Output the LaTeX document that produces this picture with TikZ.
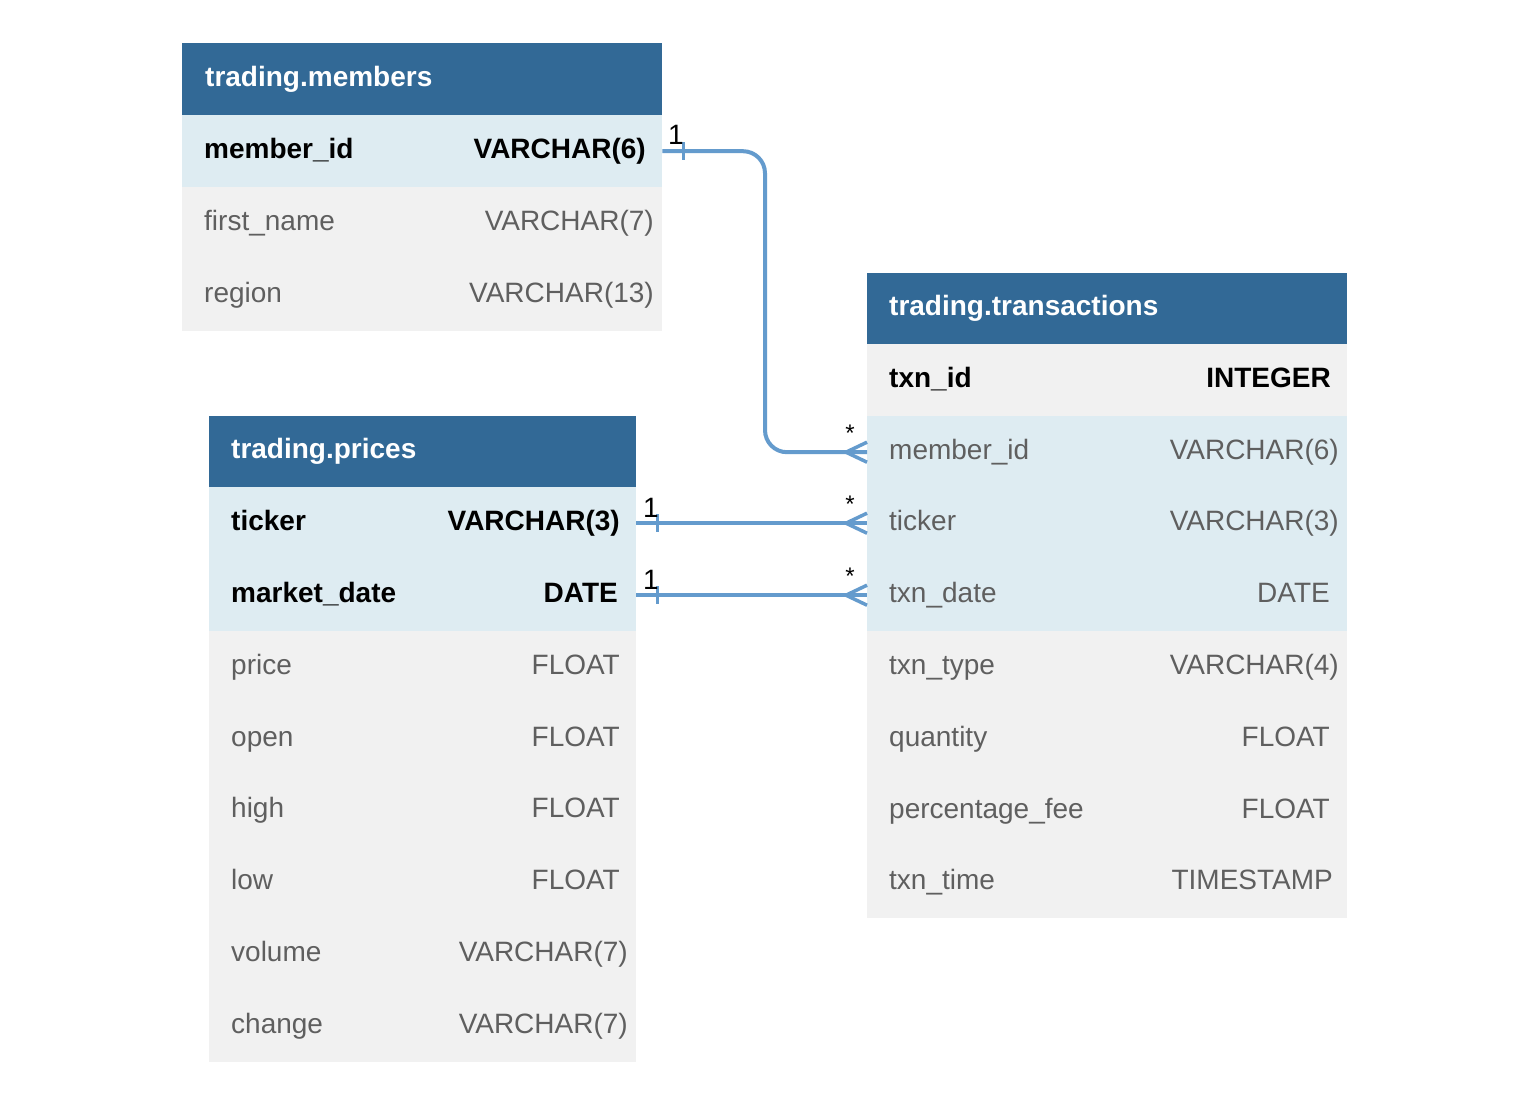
\documentclass[tikz,border=0pt]{standalone}
\usepackage{fontspec}
\setmainfont{Liberation Sans}
\definecolor{hdr}{RGB}{50,105,150}
\definecolor{keyfill}{RGB}{222,236,242}
\definecolor{plainfill}{RGB}{241,241,241}
\definecolor{greytxt}{RGB}{95,95,95}
\definecolor{conncol}{RGB}{100,155,205}
\tikzset{
  rowbox/.style={rectangle, draw=none, inner sep=0pt, minimum height=72pt, anchor=north west},
  hdrtxt/.style={inner sep=0pt, text=white, font=\fontsize{28}{34}\selectfont\bfseries},
  keytxt/.style={inner sep=0pt, text=black, font=\fontsize{28}{34}\selectfont\bfseries},
  plaintxt/.style={inner sep=0pt, text=greytxt, font=\fontsize{28}{34}\selectfont},
  conn/.style={draw=conncol, line width=4pt},
  card/.style={inner sep=0pt, text=black, font=\fontsize{28}{34}\selectfont},
  cardstar/.style={inner sep=0pt, text=black, font=\fontsize{24}{28}\selectfont},
}
% #1 name, #2 x, #3 y top, #4 width, #5 fill, #6 field, #7 type, #8 type right x, #9 text style
\newcommand{\erow}[9]{%
  \node[rowbox, fill=#5, minimum width=#4] (#1) at (#2,#3) {};
  \node[#9, anchor=base west] (#1-n) at (#2+22,#3+43) {#6};
  \node[#9, anchor=base east] (#1-t) at (#8,#3+43) {#7};
}
\newcommand{\ehdr}[5]{%
  \node[rowbox, fill=hdr, minimum width=#4, minimum height=#5] (#1) at (#2,#3) {};
}
\begin{document}
\begin{tikzpicture}[x=1pt,y=-1pt]
\useasboundingbox (0,0) rectangle (1537,1108);
\fill[white] (0,0) rectangle (1537,1108);

% ---------- trading.members ----------
\ehdr{mh}{182}{43}{480}{72}
\node[hdrtxt, anchor=base west] (mh-t) at (205,86) {trading.members};
\erow{mmid}{182}{115}{480}{keyfill}{member\_id}{VARCHAR(6)}{646}{keytxt}
\erow{mfn}{182}{187}{480}{plainfill}{first\_name}{VARCHAR(7)}{654}{plaintxt}
\erow{mreg}{182}{259}{480}{plainfill}{region}{VARCHAR(13)}{654}{plaintxt}

% ---------- trading.prices ----------
\ehdr{ph}{209}{416}{427}{71}
\node[hdrtxt, anchor=base west] (ph-t) at (231,458) {trading.prices};
\erow{ptick}{209}{487}{427}{keyfill}{ticker}{VARCHAR(3)}{620}{keytxt}
\erow{pdate}{209}{559}{427}{keyfill}{market\_date}{DATE}{618}{keytxt}
\erow{pprice}{209}{631}{427}{plainfill}{price}{FLOAT}{620}{plaintxt}
\erow{popen}{209}{703}{427}{plainfill}{open}{FLOAT}{620}{plaintxt}
\erow{phigh}{209}{774}{427}{plainfill}{high}{FLOAT}{620}{plaintxt}
\erow{plow}{209}{846}{427}{plainfill}{low}{FLOAT}{620}{plaintxt}
\erow{pvol}{209}{918}{427}{plainfill}{volume}{VARCHAR(7)}{628}{plaintxt}
\erow{pchg}{209}{990}{427}{plainfill}{change}{VARCHAR(7)}{628}{plaintxt}

% ---------- trading.transactions ----------
\ehdr{th}{867}{273}{480}{71}
\node[hdrtxt, anchor=base west] (th-t) at (889,315) {trading.transactions};
\erow{tid}{867}{344}{480}{plainfill}{txn\_id}{INTEGER}{1331}{keytxt}
\erow{tmid}{867}{416}{480}{keyfill}{member\_id}{VARCHAR(6)}{1339}{plaintxt}
\erow{ttick}{867}{487}{480}{keyfill}{ticker}{VARCHAR(3)}{1339}{plaintxt}
\erow{tdate}{867}{559}{480}{keyfill}{txn\_date}{DATE}{1330}{plaintxt}
\erow{ttype}{867}{631}{480}{plainfill}{txn\_type}{VARCHAR(4)}{1339}{plaintxt}
\erow{tqty}{867}{703}{480}{plainfill}{quantity}{FLOAT}{1330}{plaintxt}
\erow{tfee}{867}{775}{480}{plainfill}{percentage\_fee}{FLOAT}{1330}{plaintxt}
\erow{ttime}{867}{846}{480}{plainfill}{txn\_time}{TIMESTAMP}{1333}{plaintxt}

% ---------- connectors ----------
\coordinate (bend) at (765,0);
\draw[conn, rounded corners=22pt] (mmid.east) -- (mmid.east -| bend) -- (tmid.west -| bend) -- (tmid.west);
\draw[conn] (ptick.east) -- (ttick.west);
\draw[conn] (pdate.east) -- (tdate.west);

% "one" ticks
\draw[conn, line width=3.5pt] ([xshift=21pt,yshift=9pt]mmid.east) -- ([xshift=21pt,yshift=-9pt]mmid.east);
\draw[conn, line width=3.5pt] ([xshift=21pt,yshift=9pt]ptick.east) -- ([xshift=21pt,yshift=-9pt]ptick.east);
\draw[conn, line width=3.5pt] ([xshift=21pt,yshift=9pt]pdate.east) -- ([xshift=21pt,yshift=-9pt]pdate.east);

% crow's feet
\foreach \r in {tmid,ttick,tdate}{
  \draw[conn, line width=3.5pt] ([yshift=10pt]\r.west) -- ([xshift=-21pt]\r.west) -- ([yshift=-10pt]\r.west);
}

% cardinality labels
\node[card, anchor=base] (c1) at (676,144) {1};
\node[card, anchor=base] (c2) at (651,517) {1};
\node[card, anchor=base] (c3) at (651,589) {1};
\node[cardstar, anchor=base] (s1) at (850,441) {*};
\node[cardstar, anchor=base] (s2) at (850,512) {*};
\node[cardstar, anchor=base] (s3) at (850,584) {*};
\end{tikzpicture}
\end{document}
